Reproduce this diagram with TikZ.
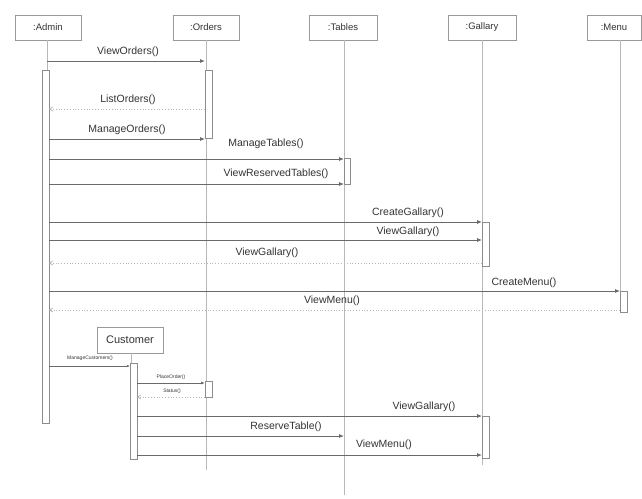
\documentclass[tikz,border=0pt]{standalone}
\usepackage{fontspec}
\setmainfont{Liberation Sans}
\usetikzlibrary{arrows.meta}
\definecolor{lline}{HTML}{B8B8B8}
\definecolor{mline}{HTML}{6A6A6A}
\definecolor{txt}{HTML}{333333}
\tikzset{
  head/.style={draw=gray!80, line width=0.8pt, fill=white, minimum height=25pt, inner sep=0pt, font=\fontsize{9.5}{10}\selectfont, text=txt},
  life/.style={draw=lline, line width=0.8pt},
  bar/.style={draw=gray!90, fill=white, line width=0.8pt, minimum width=7pt, inner sep=0pt, anchor=north},
  msg/.style={draw=mline, line width=0.8pt, -{Latex[length=5pt,width=4pt]}},
  ret/.style={draw=lline, line width=0.8pt, dotted, -{Straight Barb[length=3pt,width=4pt]}},
  lbl/.style={font=\fontsize{10.5}{11}\selectfont, text=txt, inner sep=1pt},
  tiny/.style={font=\fontsize{5}{5.5}\selectfont, text=txt, inner sep=0.5pt}
}
\begin{document}
\begin{tikzpicture}[x=1pt,y=-1pt]
\useasboundingbox (0,0) rectangle (642,498);
% headers
\node[head, minimum width=66pt] (hadmin) at (48,27.5) {:Admin};
\node[head, minimum width=66pt] (horders) at (206,27.5) {:Orders};
\node[head, minimum width=68pt] (htables) at (343,27.5) {:Tables};
\node[head, minimum width=68pt] (hgal) at (482,27.5) {:Gallary};
\node[head, minimum width=54pt] (hmenu) at (614,27.5) {:Menu};
% lifeline ends
\coordinate (eadmin) at (47,423);
\coordinate (eorders) at (206,470);
\coordinate (etables) at (344,495);
\coordinate (egal) at (482,465);
\coordinate (emenu) at (620,312);
\draw[life] (hadmin.south -| eadmin) -- (eadmin);
\draw[life] (horders.south -| eorders) -- (eorders);
\draw[life] (htables.south -| etables) -- (etables);
\draw[life] (hgal.south -| egal) -- (egal);
\draw[life] (hmenu.south -| emenu) -- (emenu);
% customer
\node[head, minimum width=66pt, minimum height=26pt, font=\fontsize{11}{12}\selectfont] (hcust) at (130,340) {Customer};
\coordinate (ecust) at (131,363);
\draw[life] (hcust.south -| ecust) -- (ecust);
% activation bars
\node[bar, minimum height=353pt] (badmin) at (45.5,70) {};
\node[bar, minimum height=68pt] (bord1) at (208.5,70) {};
\node[bar, minimum height=26pt, minimum width=6pt] (btab) at (347,158) {};
\node[bar, minimum height=44pt] (bgal1) at (485.5,222) {};
\node[bar, minimum height=21pt] (bmenu) at (623.5,291) {};
\node[bar, minimum height=96pt] (bcust) at (133.5,363) {};
\node[bar, minimum height=16pt] (bord2) at (208.5,381) {};
\node[bar, minimum height=42pt] (bgal2) at (485.5,416) {};
% message endpoints
\coordinate (m1a) at (47,61);   \coordinate (m1b) at (205,61);
\coordinate (m2a) at (49,109);  \coordinate (m2b) at (205,109);
\coordinate (m3a) at (49,139);  \coordinate (m3b) at (205,139);
\coordinate (m4a) at (49,159);  \coordinate (m4b) at (344,159);
\coordinate (m5a) at (49,184);  \coordinate (m5b) at (344,184);
\coordinate (m6a) at (49,222);  \coordinate (m6b) at (482,222);
\coordinate (m7a) at (49,240);  \coordinate (m7b) at (482,240);
\coordinate (m8a) at (49,263);  \coordinate (m8b) at (482,263);
\coordinate (m9a) at (49,291);  \coordinate (m9b) at (620,291);
\coordinate (m10a) at (49,310); \coordinate (m10b) at (620,310);
\coordinate (m11a) at (49,366); \coordinate (m11b) at (130,366);
\coordinate (m12a) at (137,383); \coordinate (m12b) at (205,383);
\coordinate (m13a) at (137,397); \coordinate (m13b) at (205,397);
\coordinate (m14a) at (137,416); \coordinate (m14b) at (482,416);
\coordinate (m15a) at (137,436); \coordinate (m15b) at (344,436);
\coordinate (m16a) at (137,455); \coordinate (m16b) at (482,455);
% messages
\draw[msg] (m1a) -- (m1b);
\draw[ret] (m2b) -- (m2a);
\draw[msg] (m3a) -- (m3b);
\draw[msg] (m4a) -- (m4b);
\draw[msg] (m5a) -- (m5b);
\draw[msg] (m6a) -- (m6b);
\draw[msg] (m7a) -- (m7b);
\draw[ret] (m8b) -- (m8a);
\draw[msg] (m9a) -- (m9b);
\draw[ret] (m10b) -- (m10a);
\draw[msg, -{Latex[length=3pt,width=2.5pt]}] (m11a) -- (m11b);
\draw[msg, -{Latex[length=4pt,width=3pt]}] (m12a) -- (m12b);
\draw[ret] (m13b) -- (m13a);
\draw[msg] (m14a) -- (m14b);
\draw[msg] (m15a) -- (m15b);
\draw[msg] (m16a) -- (m16b);
% labels
\node[lbl] (l1) at (128,52) {ViewOrders()};
\node[lbl] (l2) at (128,100) {ListOrders()};
\node[lbl] (l3) at (127,130) {ManageOrders()};
\node[lbl] (l4) at (266,144) {ManageTables()};
\node[lbl] (l5) at (276,174) {ViewReservedTables()};
\node[lbl] (l6) at (408,213) {CreateGallary()};
\node[lbl] (l7) at (408,232) {ViewGallary()};
\node[lbl] (l8) at (267,253) {ViewGallary()};
\node[lbl] (l9) at (524,283) {CreateMenu()};
\node[lbl] (l10) at (332,301) {ViewMenu()};
\node[tiny] (l11) at (90,358) {ManageCustomers()};
\node[tiny] (l12) at (171,377) {PlaceOrder()};
\node[tiny] (l13) at (172,391) {Status()};
\node[lbl] (l14) at (424,407) {ViewGallary()};
\node[lbl] (l15) at (286,427) {ReserveTable()};
\node[lbl] (l16) at (384,445) {ViewMenu()};
\end{tikzpicture}
\end{document}
